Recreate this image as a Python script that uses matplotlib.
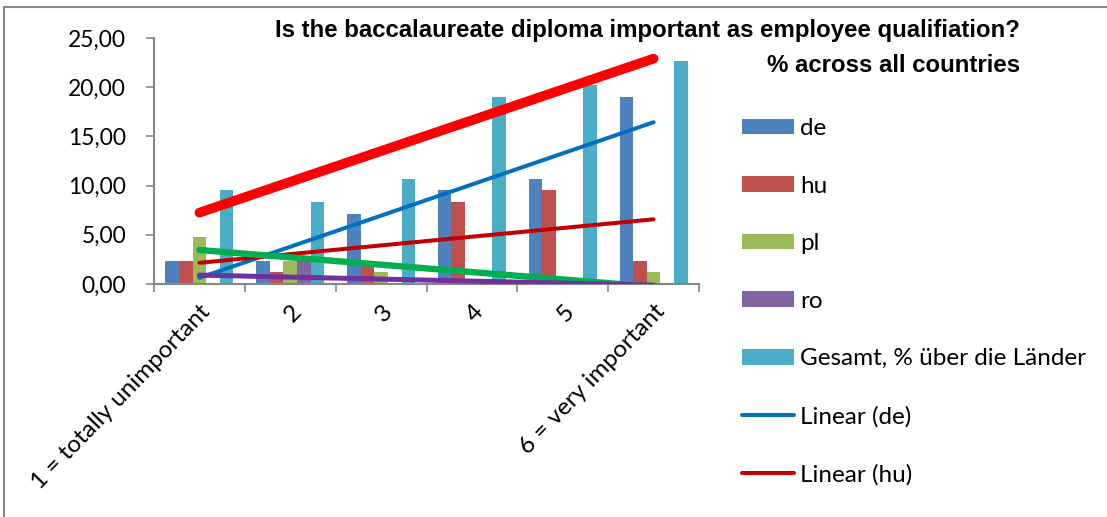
import numpy as np
import matplotlib
matplotlib.use("Agg")
import matplotlib.pyplot as plt
from matplotlib.patches import Patch
from matplotlib.lines import Line2D

# answer categories
categories = ["1 = totally unimportant", "2", "3", "4", "5", "6 = very important"]

# share of answers per country, %
de = [2.38, 2.38, 7.14, 9.52, 10.71, 19.05]
hu = [2.38, 1.19, 2.38, 8.33, 9.52, 2.38]
pl = [4.76, 2.38, 1.19, 0.00, 0.00, 1.19]
ro = [0.00, 2.38, 0.00, 0.00, 0.00, 0.00]
gesamt = [9.52, 8.33, 10.71, 19.05, 20.24, 22.62]

series = [
    ("de", de, "#4F81BD"),
    ("hu", hu, "#C0504D"),
    ("pl", pl, "#9BBB59"),
    ("ro", ro, "#8064A2"),
    ("Gesamt, % über die Länder", gesamt, "#4BACC6"),
]

# linear trend lines: (data, colour, width in pt)
trends = [
    (de, "#0070C0", 2.9),
    (hu, "#C00000", 2.9),
    (pl, "#00B050", 4.6),
    (ro, "#7030A0", 3.6),
    (gesamt, "#FF0000", 7.0),
]

plt.rcParams["font.family"] = ["Lato", "DejaVu Sans"]
axis_grey = "#868686"
txt_size = 17.5

fig = plt.figure(figsize=(11.07, 5.17), dpi=100)
ax = fig.add_axes([154 / 1107, 1 - 284 / 517, 545 / 1107, 246 / 517])

x = np.arange(len(categories))
bar_w = 0.15
for k, (name, vals, col) in enumerate(series):
    ax.bar(x + (k - 2) * bar_w, vals, width=bar_w, color=col, label=name, zorder=2)

n = np.arange(1, len(categories) + 1)
for vals, col, lw in trends:
    slope, icpt = np.polyfit(n, vals, 1)
    ax.plot(x, slope * n + icpt, color=col, lw=lw, solid_capstyle="round", zorder=3)

ax.set_xlim(-0.5, len(categories) - 0.5)
ax.set_ylim(0, 25)
ax.set_yticks(np.arange(0, 26, 5))
ax.set_yticklabels([f"{v:.2f}".replace(".", ",") for v in np.arange(0, 26, 5)])
ax.set_xticks(np.arange(-0.5, len(categories), 1.0))
ax.set_xticklabels([])
ax.set_xticks(x, minor=True)
ax.set_xticklabels(categories, minor=True, rotation=46, ha="right", va="top",
                   rotation_mode="anchor")

for side in ("top", "right"):
    ax.spines[side].set_visible(False)
for side in ("left", "bottom"):
    ax.spines[side].set_color(axis_grey)
    ax.spines[side].set_linewidth(1.5)
ax.tick_params(axis="y", which="major", length=6, width=1.2, color=axis_grey,
               labelsize=16.5, pad=14)
ax.tick_params(axis="x", which="major", length=6, width=1.2, color=axis_grey)
ax.tick_params(axis="x", which="minor", length=0, labelsize=txt_size, pad=12)

title_font = dict(family="Liberation Sans", weight="bold",
                  fontsize=17.3, ha="right", va="center")
fig.text(1020 / 1107, 1 - 30 / 517,
         "Is the baccalaureate diploma important as employee qualifiation?", **title_font)
fig.text(1020 / 1107, 1 - 65 / 517, "% across all countries", **title_font)

handles = [Patch(facecolor=col, label=name) for name, _, col in series]
handles += [
    Line2D([], [], color="#0070C0", lw=2.9, solid_capstyle="round", label="Linear (de)"),
    Line2D([], [], color="#C00000", lw=2.9, solid_capstyle="round", label="Linear (hu)"),
]
fig.legend(handles=handles, loc="upper left", bbox_to_anchor=(742 / 1107, 1 - 118 / 517),
           frameon=False, fontsize=txt_size, handlelength=2.14, handleheight=0.62,
           handletextpad=0.25, labelspacing=1.505, borderaxespad=0, borderpad=0)

# chart frame: left and top edges
fig.add_artist(Line2D([4 / 1107, 4 / 1107], [0, 1 - 7 / 517], color=axis_grey, lw=1.5))
fig.add_artist(Line2D([4 / 1107, 1], [1 - 7 / 517, 1 - 7 / 517], color=axis_grey, lw=1.5))

fig.savefig("out.png", dpi=100)
